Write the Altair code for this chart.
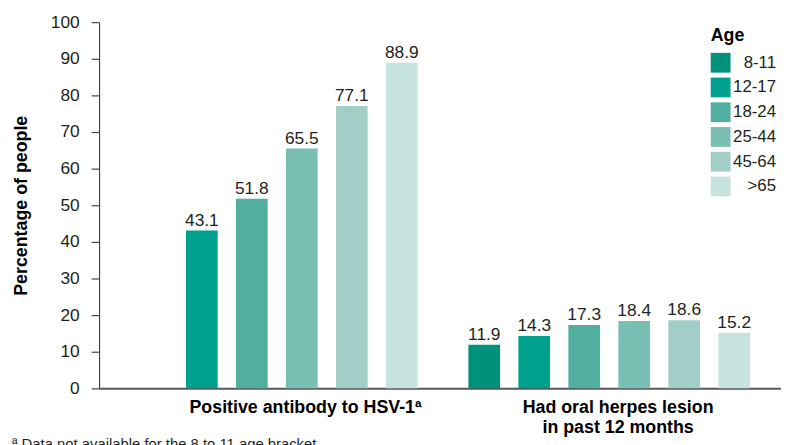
import altair as alt
import pandas as pd

groups = ["Positive antibody to HSV-1ª", "Had oral herpes lesion in past 12 months"]
ages = ["8-11", "12-17", "18-24", "25-44", "45-64", ">65"]
antibody = [None, 43.1, 51.8, 65.5, 77.1, 88.9]
lesion = [11.9, 14.3, 17.3, 18.4, 18.6, 15.2]
colors = ["#00917d", "#00a08e", "#52ae9f", "#79bfb3", "#a2cec8", "#c7e3de"]
y_ticks = list(range(0, 101, 10))
footnote = "ª Data not available for the 8 to 11 age bracket"

rows = []
for g, vals in zip(groups, [antibody, lesion]):
    for a, v in zip(ages, vals):
        if v is not None:
            rows.append({"group": g, "age": a, "value": v})
df = pd.DataFrame(rows)

FONT = "Liberation Sans, Arial, sans-serif"
TXT = "#231f20"
NUM = 17.5

label_expr = (
    "datum.value == 'Had oral herpes lesion in past 12 months' ? "
    "['Had oral herpes lesion', 'in past 12 months'] : datum.value"
)

base = alt.Chart(df).encode(
    x=alt.X(
        "group:N",
        sort=groups,
        scale=alt.Scale(paddingInner=0.0977, paddingOuter=0.0747, align=0.56),
        axis=alt.Axis(
            title=None,
            labelAngle=0,
            labelExpr=label_expr,
            labelFont=FONT,
            labelFontSize=18,
            labelFontWeight="bold",
            labelColor="#000000",
            labelLimit=400,
            labelPadding=10,
            labelLineHeight=21,
            labelOffset={"condition": {"test": "indexof(datum.value, 'Positive') >= 0", "value": 29}, "value": 9},
            ticks=False,
            domainColor="#58595b",
            domainWidth=2,
        ),
    ),
    xOffset=alt.XOffset(
        "age:N",
        sort=ages,
        scale=alt.Scale(domain=ages, paddingInner=0.366, paddingOuter=0.183),
    ),
    y=alt.Y(
        "value:Q",
        scale=alt.Scale(domain=[0, 100], nice=False),
        axis=alt.Axis(
            values=y_ticks,
            title="Percentage of people",
            titleFont=FONT,
            titleFontSize=18,
            titleFontWeight="bold",
            titleColor="#000000",
            titlePadding=20,
            labelFont=FONT,
            labelFontSize=NUM,
            labelColor=TXT,
            labelPadding=12,
            tickSize=8,
            tickColor="#444444",
            tickWidth=1.2,
            domainColor="#444444",
            domainWidth=1.2,
            grid=False,
        ),
    ),
)

bars = base.mark_bar().encode(
    color=alt.Color(
        "age:N",
        sort=ages,
        scale=alt.Scale(domain=ages, range=colors),
        legend=alt.Legend(
            orient="none",
            legendX=618,
            legendY=5,
            title="Age",
            titleFont=FONT,
            titleFontSize=18,
            titleFontWeight="bold",
            titleColor="#000000",
            titlePadding=8,
            labelFont=FONT,
            labelFontSize=17,
            labelColor=TXT,
            labelAlign="right",
            labelOffset=46,
            symbolType="square",
            symbolSize=400,
            symbolStrokeWidth=0,
            symbolOpacity=1,
            rowPadding=5,
            padding=0,
        ),
    )
)

labels = base.mark_text(
    baseline="alphabetic", dy=-5, fontSize=NUM, font=FONT, color=TXT
).encode(text=alt.Text("value:Q", format=".1f"))

chart = (
    alt.layer(bars, labels)
    .properties(
        width=689,
        height=370,
        padding={"left": 92, "top": 12, "right": 0, "bottom": 63},
        autosize=alt.AutoSizeParams(type="none"),
        title=alt.Title(
            footnote,
            orient="bottom",
            anchor="start",
            frame="group",
            dx=-88,
            offset=0,
            fontSize=15,
            fontWeight="normal",
            font=FONT,
            color=TXT,
        ),
    )
    .configure_view(stroke=None)
)

chart.save("out.html", embed_options={"renderer": "svg", "actions": False})
